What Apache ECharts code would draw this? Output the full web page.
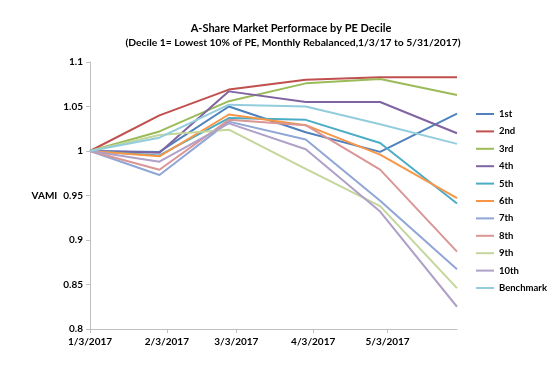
<!DOCTYPE html>
<html>
<head>
<meta charset="utf-8">
<script src="https://cdn.jsdelivr.net/npm/echarts@6/dist/echarts.min.js"></script>
<style>html,body{margin:0;padding:0;background:#fff}#c{width:552px;height:370px}</style>
</head>
<body>
<div id="c"></div>
<script>
var dates = ['2017-01-03','2017-01-31','2017-02-28','2017-03-31','2017-04-30','2017-05-31'];
var tickDates = ['2017-01-03','2017-02-03','2017-03-03','2017-04-03','2017-05-03'];
var tickLabels = ['1/3/2017','2/3/2017','3/3/2017','4/3/2017','5/3/2017'];
var seriesNames = ['1st','2nd','3rd','4th','5th','6th','7th','8th','9th','10th','Benchmark'];
var d1st  = [1, 0.999, 1.050, 1.021, 0.999, 1.042];
var d2nd  = [1, 1.040, 1.069, 1.080, 1.083, 1.083];
var d3rd  = [1, 1.022, 1.056, 1.076, 1.081, 1.063];
var d4th  = [1, 0.998, 1.067, 1.055, 1.055, 1.020];
var d5th  = [1, 0.995, 1.037, 1.035, 1.009, 0.941];
var d6th  = [1, 0.994, 1.041, 1.029, 0.996, 0.947];
var d7th  = [1, 0.973, 1.033, 1.013, 0.944, 0.867];
var d8th  = [1, 0.979, 1.035, 1.029, 0.979, 0.887];
var d9th  = [1, 1.018, 1.024, 0.980, 0.938, 0.846];
var d10th = [1, 0.988, 1.031, 1.002, 0.932, 0.825];
var dBench= [1, 1.015, 1.052, 1.050, 1.030, 1.008];
var allData = [d1st,d2nd,d3rd,d4th,d5th,d6th,d7th,d8th,d9th,d10th,dBench];
var colors = ['#4F81BD','#C0504D','#9BBB59','#8064A2','#4BACC6','#F79646','#8FA6D6','#D99694','#C3D69B','#AFA0C8','#93CDDD'];

var DAY = 86400000;
var t0 = Date.parse(dates[0]);
function dayNum(d){ return Math.round((Date.parse(d) - t0) / DAY); }
var xs = dates.map(dayNum);
var tickXs = tickDates.map(dayNum);
var FONT = 'Lato';

var chart = echarts.init(document.getElementById('c'), null, {renderer:'canvas'});
chart.setOption({
  animation: false,
  color: colors,
  title: [
    {text: 'A-Share Market Performace by PE Decile', left: 286, top: 18, textAlign: 'center',
     textStyle: {fontFamily: FONT, fontWeight: 'bold', fontSize: 11, color: '#000'}},
    {text: '(Decile 1= Lowest 10% of PE, Monthly Rebalanced,1/3/17 to 5/31/2017)', left: 288, top: 33, textAlign: 'center',
     textStyle: {fontFamily: FONT, fontWeight: 'bold', fontSize: 10.3, color: '#000'}}
  ],
  grid: {left: 90, right: 95, top: 62, bottom: 41, containLabel: false},
  legend: {
    orient: 'vertical', left: 471, top: 104,
    icon: 'rect', itemWidth: 18, itemHeight: 2, itemGap: 7.4,
    textStyle: {fontFamily: FONT, fontWeight: 'bold', fontSize: 9.5, lineHeight: 10, color: '#000'},
    data: seriesNames
  },
  xAxis: {
    type: 'value', min: xs[0], max: xs[xs.length-1],
    axisLine: {lineStyle: {color: '#BFBFBF', width: 1}},
    splitLine: {show: false},
    axisTick: {show: true, length: 4, customValues: tickXs, lineStyle: {color: '#BFBFBF'}},
    axisLabel: {
      customValues: tickXs, margin: 8, color: '#000', fontFamily: FONT, fontWeight: 'bold', fontSize: 10,
      formatter: function(v){ var i = tickXs.indexOf(v); return i >= 0 ? tickLabels[i] : ''; }
    }
  },
  yAxis: {
    type: 'value', min: 0.8, max: 1.1, interval: 0.05,
    name: 'VAMI', nameLocation: 'middle', nameRotate: 0, nameGap: 31,
    nameTextStyle: {fontFamily: FONT, fontWeight: 'bold', fontSize: 10, color: '#000', align: 'right'},
    axisLine: {show: true, lineStyle: {color: '#BFBFBF', width: 1}},
    axisTick: {show: true, length: 4, lineStyle: {color: '#BFBFBF'}},
    splitLine: {show: false},
    axisLabel: {color: '#000', fontFamily: FONT, fontWeight: 'bold', fontSize: 10, margin: 7,
      formatter: function(v){ return String(parseFloat(v.toFixed(2))); }}
  },
  series: seriesNames.map(function(n, k){
    return {
      name: n, type: 'line', symbol: 'none', smooth: false,
      lineStyle: {width: 2},
      data: allData[k].map(function(v, i){ return [xs[i], v]; })
    };
  })
});
</script>
</body>
</html>
